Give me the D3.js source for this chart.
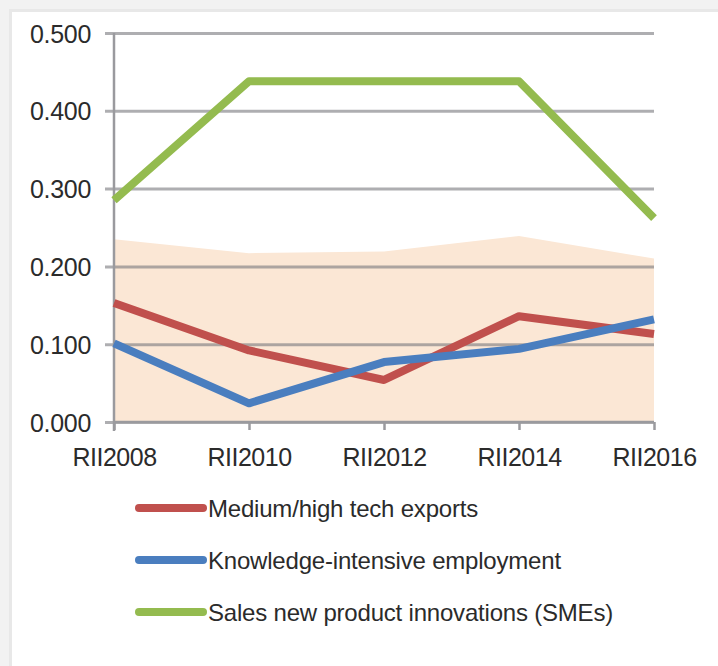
<!DOCTYPE html>
<html><head><meta charset="utf-8">
<script src="https://cdn.jsdelivr.net/npm/d3@7"></script>
<style>
html,body{margin:0;padding:0;background:#fff;}
svg{display:block;}
text{font-family:"Liberation Sans",Arial,sans-serif;fill:#2b2b2b;}
</style></head>
<body>
<svg id="c" width="718" height="666"></svg>
<script>
const categories = ["RII2008","RII2010","RII2012","RII2014","RII2016"];
const medHighTech = [0.153, 0.092, 0.054, 0.136, 0.113];
const knowledgeEmp = [0.101, 0.024, 0.077, 0.094, 0.132];
const salesNewProd = [0.285, 0.438, 0.438, 0.438, 0.262];
const rangeTop = [0.235, 0.217, 0.219, 0.239, 0.210];
const yTicks = [0, 0.1, 0.2, 0.3, 0.4, 0.5];
const seriesNames = ["Medium/high tech exports","Knowledge-intensive employment","Sales new product innovations (SMEs)"];
const seriesColors = ["#c0504d","#4a7ebf","#94bb4f"];

const svg = d3.select("#c");
// frame bands
svg.append("rect").attr("x",0).attr("y",0).attr("width",718).attr("height",11).attr("fill","#f2f2f2");
svg.append("rect").attr("x",0).attr("y",0).attr("width",11).attr("height",666).attr("fill","#f2f2f2");
svg.append("rect").attr("x",9).attr("y",9).attr("width",709).attr("height",3).attr("fill","#e8e8e8");
svg.append("rect").attr("x",9).attr("y",9).attr("width",3).attr("height",657).attr("fill","#e8e8e8");

const x = d3.scalePoint().domain(categories).range([114, 654]);
const y = d3.scaleLinear().domain([0, 0.5]).range([422, 33]);

// shaded range area
const area = d3.area().x((d,i)=>x(categories[i])).y0(y(0)).y1(d=>y(d));
svg.append("path").datum(rangeTop).attr("d", area).attr("fill","#fbe7d5");

// gridlines + y axis ticks
const yAxis = d3.axisLeft(y).tickValues(yTicks).tickFormat(d3.format(".3f"))
  .tickSize(-(654-105)).tickPadding(14);
const gy = svg.append("g").attr("transform","translate(105,0)").call(yAxis);
gy.select(".domain").remove();
gy.selectAll(".tick line").attr("stroke","rgba(120,120,125,0.6)").attr("stroke-width",3);
gy.selectAll(".tick text").attr("font-size",25).attr("fill","#2b2b2b").attr("dy","0.36em")
  .attr("font-family","'Liberation Sans',Arial,sans-serif").attr("letter-spacing","-0.3");

// y axis line
svg.append("line").attr("x1",114).attr("x2",114).attr("y1",33).attr("y2",431)
  .attr("stroke","#9a9a9e").attr("stroke-width",2.5);

// x axis
const xAxis = d3.axisBottom(x).tickSize(8).tickPadding(18);
const gx = svg.append("g").attr("transform","translate(0,422)").call(xAxis);
gx.select(".domain").attr("d","M114,0H654").attr("stroke","#9a9a9e").attr("stroke-width",2.5);
gx.selectAll(".tick line").attr("stroke","#9a9a9e").attr("stroke-width",2.5);
gx.selectAll(".tick text").attr("font-size",25).attr("fill","#2b2b2b")
  .attr("font-family","'Liberation Sans',Arial,sans-serif").attr("letter-spacing","-0.5");

// lines
const line = d3.line().x((d,i)=>x(categories[i])).y(d=>y(d));
[medHighTech, knowledgeEmp, salesNewProd].forEach((s,k)=>{
  svg.append("path").datum(s).attr("d", line).attr("fill","none")
    .attr("stroke", seriesColors[k]).attr("stroke-width",8).attr("stroke-linejoin","round");
});

// legend
const lg = svg.append("g");
seriesNames.forEach((n,k)=>{
  const yy = 508 + k*52;
  lg.append("line").attr("x1",139).attr("x2",203).attr("y1",yy).attr("y2",yy)
    .attr("stroke",seriesColors[k]).attr("stroke-width",8).attr("stroke-linecap","round");
  lg.append("text").attr("x",208).attr("y",yy+9).attr("font-size",24)
    .attr("letter-spacing","-0.2").text(n);
});
</script>
</body></html>
